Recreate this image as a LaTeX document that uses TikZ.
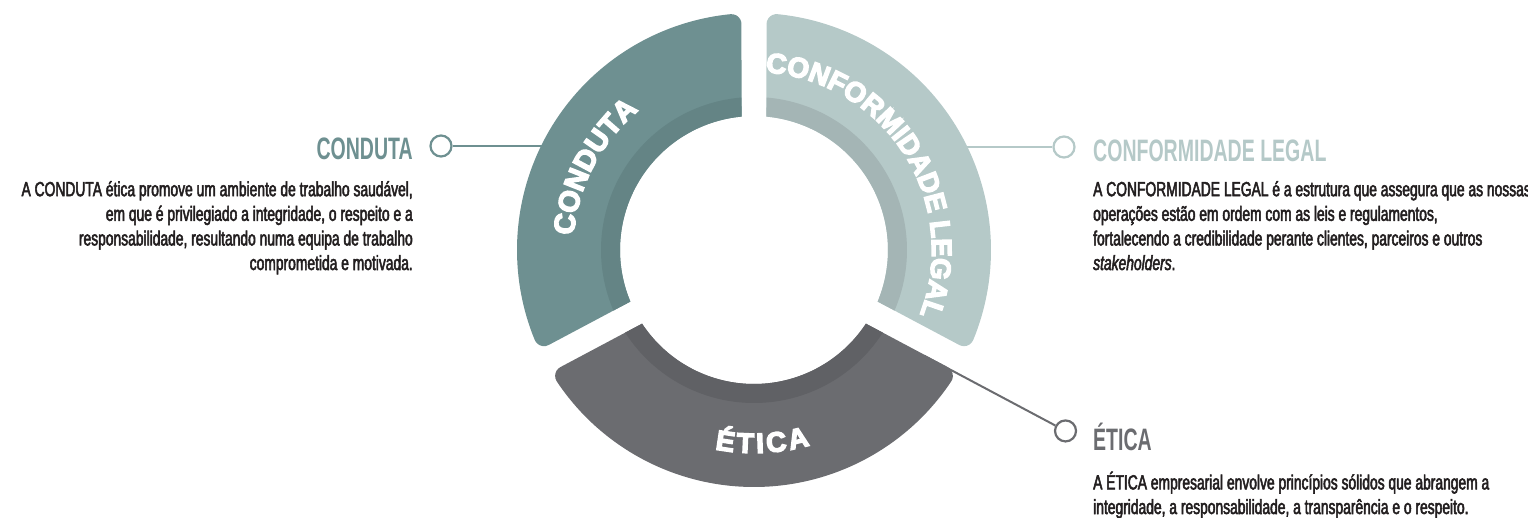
\documentclass[tikz,border=0pt]{standalone}
\usepackage{fontspec}
\setmainfont{Liberation Sans}
\newfontfamily\titlefont[FakeStretch=0.63]{Liberation Sans}
\newfontfamily\bodyfont[FakeStretch=0.675, FakeBold=2.5]{Liberation Sans}
\newfontfamily\ringfont[FakeBold=5]{Liberation Sans}
\usetikzlibrary{decorations.text}
\definecolor{conduta}{HTML}{6E9091}
\definecolor{condutaband}{HTML}{648485}
\definecolor{conform}{HTML}{B5C9C8}
\definecolor{conformband}{HTML}{A4B5B5}
\definecolor{etica}{HTML}{6B6C70}
\definecolor{eticaband}{HTML}{606165}
\definecolor{bodytext}{HTML}{231F20}
% #1 = gap angle on clockwise side, #2 = gap angle on counter-clockwise side
\newcommand\ringseg[3]{%
  \fill[#3] ({#1+5.35}:134) -- ({#1+3.17}:226.23)
    arc[start angle={#1-90}, end angle={#1+5.69}, radius=10]
    arc[start angle={#1+5.69}, end angle={#2-5.69}, radius=237]
    arc[start angle={#2-5.69}, end angle={#2+90}, radius=10]
    -- ({#2-5.35}:134)
    arc[start angle={#2-5.35}, end angle={#1+5.35}, radius=134] -- cycle;}
\newcommand\ringband[3]{%
  \fill[#3] ({#1+5.35}:134) -- ({#1+4.69}:153)
    arc[start angle={#1+4.69}, end angle={#2-4.69}, radius=153]
    -- ({#2-5.35}:134)
    arc[start angle={#2-5.35}, end angle={#1+5.35}, radius=134] -- cycle;}
\tikzset{
  titlestyle/.style={inner sep=0pt, font=\titlefont\bfseries\fontsize{31}{31}\selectfont},
  bodystyle/.style={inner sep=0pt, text=bodytext, font=\bodyfont\fontsize{20.5}{24.6}\selectfont},
  dot/.style={circle, minimum size=21pt, inner sep=0pt, line width=2.2pt, fill=white},
  conn/.style={line width=2pt},
  ringtext/.style={decorate, decoration={text along path, text color=white, #1}},
}
\begin{document}
\begin{tikzpicture}[x=1pt, y=1pt]
\useasboundingbox (-754,-267) rectangle (774,250);
% connector anchors
\coordinate (econduta) at (-200,104);
\coordinate (econform) at (200,103);
\coordinate (eetica) at (170.25,-105.81);
\node[dot, draw=conduta] (cconduta) at (-313,104) {};
\node[dot, draw=conform] (cconform) at (310,103) {};
\node[dot, draw=etica] (cetica) at (311.52,-180.93) {};
\draw[conn, conduta] (econduta) -- (cconduta);
\draw[conn, conform] (econform) -- (cconform);
\draw[conn, etica] (eetica) -- (cetica);
% ring
\ringseg{90}{208}{conduta}
\ringband{90}{208}{condutaband}
\ringseg{-28}{90}{conform}
\ringband{-28}{90}{conformband}
\ringseg{208}{332}{etica}
\ringband{208}{332}{eticaband}
% ring texts
\path[ringtext={text align=center,
  text={|\ringfont\bfseries\fontsize{29}{29}\selectfont|CONDUTA}}]
  (210:181) arc[start angle=210, end angle=95, radius=181];
\path[ringtext={text align=center,
  text={|\ringfont\bfseries\fontsize{28}{28}\selectfont|CONFORMIDADE LEGAL}}]
  (95:178) arc[start angle=95, end angle=-30, radius=178];
\path[ringtext={text align={fit to path},
  text={|\ringfont\bfseries\fontsize{28}{28}\selectfont|ÉTICA}}]
  (258.9:203) arc[start angle=258.9, end angle=286, radius=203];
% labels
\node[titlestyle, text=conduta, anchor=base east] (tconduta) at (-341,91) {CONDUTA};
\node[bodystyle, align=right, anchor=base east] (bconduta) at (-341,-20)
  {A CONDUTA ética promove um ambiente de trabalho saudável,\\
   em que é privilegiado a integridade, o respeito e a\\
   responsabilidade, resultando numa equipa de trabalho\\
   comprometida e motivada.};
\node[titlestyle, text=conform, anchor=base west] (tconform) at (339,89) {CONFORMIDADE LEGAL};
\node[bodystyle, align=left, anchor=base west] (bconform) at (339,-20)
  {A CONFORMIDADE LEGAL é a estrutura que assegura que as nossas\\
   operações estão em ordem com as leis e regulamentos,\\
   fortalecendo a credibilidade perante clientes, parceiros e outros\\
   \textit{stakeholders}.};
\node[titlestyle, text=etica, anchor=base west] (tetica) at (339,-200) {ÉTICA};
\node[bodystyle, align=left, anchor=base west] (betica) at (339,-264)
  {A ÉTICA empresarial envolve princípios sólidos que abrangem a\\
   integridade, a responsabilidade, a transparência e o respeito.};
\end{tikzpicture}
\end{document}
